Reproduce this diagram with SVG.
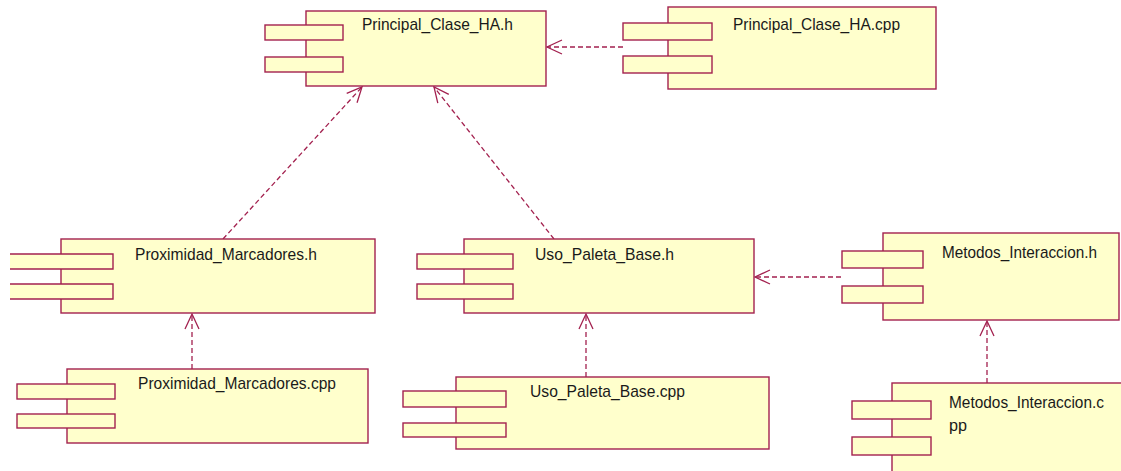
<svg xmlns="http://www.w3.org/2000/svg" width="1121" height="471" viewBox="0 0 1121 471">
<style>
.box{fill:#FFFFCC;stroke:#A3214F;stroke-width:1.4}
.tabfill{fill:#FFFFCC;stroke:none}
.edge{fill:none;stroke:#A3214F;stroke-width:1.4}
.dep{fill:none;stroke:#A3214F;stroke-width:1.3;stroke-dasharray:5 3}
.lbl{font-family:"Liberation Sans",Arial,sans-serif;font-size:17px;fill:#1a1a1a}
</style>
<defs>
<marker id="open" markerUnits="userSpaceOnUse" markerWidth="20" markerHeight="20" refX="0" refY="0" viewBox="-17 -10 20 20" orient="auto">
<path d="M -15 -7 L 0 0 L -15 7" fill="none" stroke="#A3214F" stroke-width="1.3"/>
</marker>
</defs>
<rect width="1121" height="471" fill="#ffffff"/>
<g id="connectors">
<line class="dep" x1="623" y1="47" x2="547" y2="47" marker-end="url(#open)"/>
<line class="dep" x1="223" y1="239" x2="362" y2="87" marker-end="url(#open)"/>
<line class="dep" x1="554" y1="239" x2="434" y2="87" marker-end="url(#open)"/>
<line class="dep" x1="841" y1="277" x2="755" y2="277" marker-end="url(#open)"/>
<line class="dep" x1="192" y1="369" x2="192" y2="314" marker-end="url(#open)"/>
<line class="dep" x1="586" y1="377" x2="586" y2="314" marker-end="url(#open)"/>
<line class="dep" x1="987" y1="383" x2="987" y2="321" marker-end="url(#open)"/>
</g>
<g id="principal_h">
<rect class="box" x="306" y="11" width="240" height="75"/>
<rect class="box" x="265" y="25" width="78" height="15"/>
<rect class="box" x="265" y="57" width="78" height="15"/>
<text class="lbl" x="362" y="30" textLength="151" lengthAdjust="spacingAndGlyphs">Principal_Clase_HA.h</text>
</g>
<g id="principal_cpp">
<rect class="box" x="668" y="7" width="268" height="82"/>
<rect class="box" x="623" y="23" width="89" height="17"/>
<rect class="box" x="623" y="56" width="89" height="17"/>
<text class="lbl" x="733" y="30" textLength="167" lengthAdjust="spacingAndGlyphs">Principal_Clase_HA.cpp</text>
</g>
<g id="proximidad_h">
<rect class="box" x="61" y="239" width="314" height="74"/>
<rect class="tabfill" x="10" y="254" width="103" height="15"/>
<path class="edge" d="M10 254 H113 V269 H10"/>
<rect class="tabfill" x="10" y="284" width="103" height="15"/>
<path class="edge" d="M10 284 H113 V299 H10"/>
<text class="lbl" x="135" y="260" textLength="182" lengthAdjust="spacingAndGlyphs">Proximidad_Marcadores.h</text>
</g>
<g id="uso_h">
<rect class="box" x="464" y="239" width="290" height="74"/>
<rect class="box" x="417" y="254" width="96" height="15"/>
<rect class="box" x="417" y="284" width="96" height="15"/>
<text class="lbl" x="535" y="260" textLength="139" lengthAdjust="spacingAndGlyphs">Uso_Paleta_Base.h</text>
</g>
<g id="metodos_h">
<rect class="box" x="883" y="233" width="236" height="87"/>
<rect class="box" x="842" y="251" width="81" height="17"/>
<rect class="box" x="842" y="286" width="81" height="17"/>
<text class="lbl" x="942" y="258" textLength="155" lengthAdjust="spacingAndGlyphs">Metodos_Interaccion.h</text>
</g>
<g id="proximidad_cpp">
<rect class="box" x="67" y="369" width="301" height="74"/>
<rect class="box" x="17" y="384" width="98" height="15"/>
<rect class="box" x="17" y="414" width="98" height="14"/>
<text class="lbl" x="138" y="389" textLength="198" lengthAdjust="spacingAndGlyphs">Proximidad_Marcadores.cpp</text>
</g>
<g id="uso_cpp">
<rect class="box" x="456" y="377" width="313" height="72"/>
<rect class="box" x="403" y="391" width="103" height="16"/>
<rect class="box" x="403" y="423" width="103" height="14"/>
<text class="lbl" x="530" y="397" textLength="155" lengthAdjust="spacingAndGlyphs">Uso_Paleta_Base.cpp</text>
</g>
<g id="metodos_cpp">
<rect class="box" x="892" y="383" width="240" height="100"/>
<rect class="box" x="852" y="401" width="79" height="18"/>
<rect class="box" x="852" y="437" width="79" height="18"/>
<text class="lbl" x="949" y="408" textLength="155" lengthAdjust="spacingAndGlyphs">Metodos_Interaccion.c</text>
<text class="lbl" x="949" y="431" textLength="18" lengthAdjust="spacingAndGlyphs">pp</text>
</g>
</svg>
